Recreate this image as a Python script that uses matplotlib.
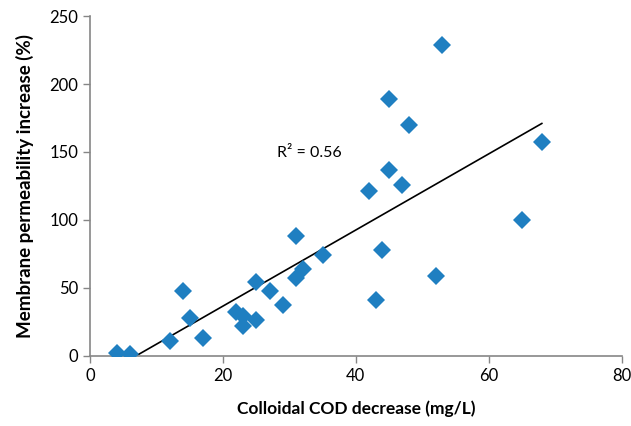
import numpy as np
import matplotlib.pyplot as plt

plt.rcParams['font.family'] = ['Lato', 'DejaVu Sans']

# 膠體 COD 減少量 (mg/L) 與 膜通透性增加 (%)
cod_decrease = [4, 6, 12, 14, 15, 17, 22, 23, 23, 25, 25, 27, 29, 31, 31, 32, 35,
                42, 43, 44, 45, 45, 47, 48, 52, 53, 65, 68]
perm_increase = [2, 1, 11, 48, 28, 13, 32, 29, 22, 54, 26, 48, 37, 57, 88, 64, 74,
                 121, 41, 78, 189, 137, 126, 170, 59, 229, 100, 157]
r2_text = "R\u00b2 = 0.56"

x = np.array(cod_decrease, dtype=float)
y = np.array(perm_increase, dtype=float)
slope, intercept = np.polyfit(x, y, 1)
xx = np.array([x.min(), x.max()])

fig, ax = plt.subplots(figsize=(6.31, 4.26), dpi=100)
ax.plot(x, y, 'D', color='#1f7fc1', markersize=9, markeredgewidth=0, zorder=3)
ax.plot(xx, slope * xx + intercept, color='black', linewidth=1.2, zorder=2)

ax.text(33, 149, r2_text, fontsize=11.5, ha='center', va='center')

ax.set_xlim(0, 80)
ax.set_ylim(0, 250)
ax.set_xticks(np.arange(0, 81, 20))
ax.set_yticks(np.arange(0, 251, 50))

for side in ['top', 'right']:
    ax.spines[side].set_visible(False)
for side in ['left', 'bottom']:
    ax.spines[side].set_color('#868686')
    ax.spines[side].set_linewidth(1.2)
ax.tick_params(direction='out', length=5, color='#868686', labelsize=12, width=1)

ax.set_xlabel("Colloidal COD decrease (mg/L)", fontsize=12.5, fontweight='bold', labelpad=12)
ax.set_ylabel("Membrane permeability increase (%)", fontsize=13.5, fontweight='bold', labelpad=11)

fig.subplots_adjust(left=0.143, right=0.985, bottom=0.165, top=0.962)
fig.savefig('out.png', dpi=100)
